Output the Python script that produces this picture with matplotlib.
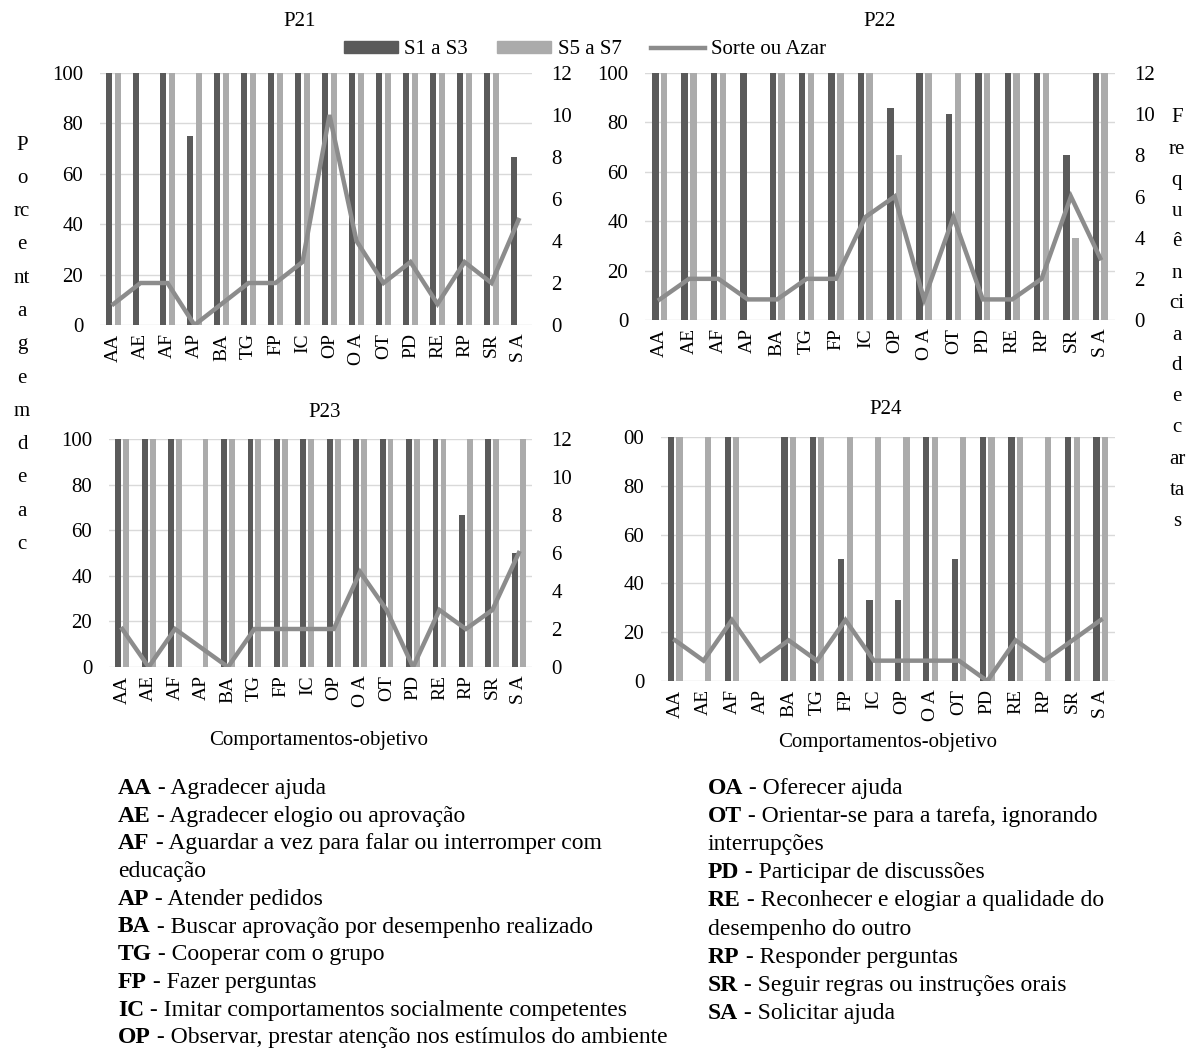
import matplotlib
matplotlib.use('Agg')
import matplotlib.pyplot as plt
from matplotlib.patches import Patch
from matplotlib.lines import Line2D
from matplotlib.text import Annotation
from matplotlib.transforms import Bbox, TransformedBbox
import numpy as np

plt.rcParams['font.family'] = ['Liberation Serif', 'DejaVu Serif']

# ---------------- data ----------------
categories = ['AA', 'AE', 'AF', 'AP', 'BA', 'TG', 'FP', 'IC', 'OP', 'O A',
              'OT', 'PD', 'RE', 'RP', 'SR', 'S A']

p21_s1_s3 = [100, 100, 100, 75, 100, 100, 100, 100, 100, 100, 100, 100, 100, 100, 100, 66.7]
p21_s5_s7 = [100, 0, 100, 100, 100, 100, 100, 100, 100, 100, 100, 100, 100, 100, 100, 0]
p21_sorte = [1, 2, 2, 0, 1, 2, 2, 3, 10, 4, 2, 3, 1, 3, 2, 5]

p22_s1_s3 = [100, 100, 100, 100, 100, 100, 100, 100, 85.7, 100, 83.3, 100, 100, 100, 66.7, 100]
p22_s5_s7 = [100, 100, 100, 0, 100, 100, 100, 100, 66.7, 100, 100, 100, 100, 100, 33.3, 100]
p22_sorte = [1, 2, 2, 1, 1, 2, 2, 5, 6, 1, 5, 1, 1, 2, 6, 3]

p23_s1_s3 = [100, 100, 100, 0, 100, 100, 100, 100, 100, 100, 100, 100, 100, 66.7, 100, 50]
p23_s5_s7 = [100, 100, 100, 100, 100, 100, 100, 100, 100, 100, 100, 100, 100, 100, 100, 100]
p23_sorte = [2, 0, 2, 1, 0, 2, 2, 2, 2, 5, 3, 0, 3, 2, 3, 6]

p24_s1_s3 = [100, 0, 100, 0, 100, 100, 50, 33.3, 33.3, 100, 50, 100, 100, 0, 100, 100]
p24_s5_s7 = [100, 100, 100, 0, 100, 100, 100, 100, 100, 100, 100, 100, 100, 100, 100, 100]
p24_sorte = [2, 1, 3, 1, 2, 1, 3, 1, 1, 1, 1, 0, 2, 1, 2, 3]

panel_titles = ['P21', 'P22', 'P23', 'P24']
left_ticks = [0, 20, 40, 60, 80, 100]
left_ticklabels_p24 = ['0', '20', '40', '60', '80', '00']
right_ticks = [0, 2, 4, 6, 8, 10, 12]
series_labels = ['S1 a S3', 'S5 a S7', 'Sorte ou Azar']
xlabel_text = 'Comportamentos-objetivo'

glossary_left = [
    ('AA', ' - Agradecer ajuda'),
    ('AE', ' - Agradecer elogio ou aprovação'),
    ('AF', ' - Aguardar a vez para falar ou interromper com'),
    ('', 'educação'),
    ('AP', ' - Atender pedidos'),
    ('BA', ' - Buscar aprovação por desempenho realizado'),
    ('TG', ' - Cooperar com o grupo'),
    ('FP', ' - Fazer perguntas'),
    ('IC', ' - Imitar comportamentos socialmente competentes'),
    ('OP', ' - Observar, prestar atenção nos estímulos do ambiente'),
]
glossary_right = [
    ('OA', ' - Oferecer ajuda'),
    ('OT', ' - Orientar-se para a tarefa, ignorando'),
    ('', 'interrupções'),
    ('PD', ' - Participar de discussões'),
    ('RE', ' - Reconhecer e elogiar a qualidade do'),
    ('', 'desempenho do outro'),
    ('RP', ' - Responder perguntas'),
    ('SR', ' - Seguir regras ou instruções orais'),
    ('SA', ' - Solicitar ajuda'),
]
left_label_parts = ['P', 'o', 'rc', 'e', 'nt', 'a', 'g', 'e', 'm', 'd', 'e', 'a', 'c', 'ar']
right_label_parts = ['F', 're', 'q', 'u', 'ê', 'n', 'ci', 'a', 'd', 'e', 'c', 'ar', 'ta', 's']

# ---------------- style ----------------
W, H = 1194, 1049
DARK = '#5a5a5a'
LIGHT = '#ababab'
LINEC = '#8c8c8c'
GRID = '#d9d9d9'
FS = 15
GFS = 17

fig = plt.figure(figsize=(W / 100, H / 100), dpi=100)


def px_rect(x0, y0, x1, y1):
    return [x0 / W, 1 - y1 / H, (x1 - x0) / W, (y1 - y0) / H]


panels = [
    (px_rect(100, 73, 532, 325), p21_s1_s3, p21_s5_s7, p21_sorte, True, False),
    (px_rect(645, 73, 1115, 320), p22_s1_s3, p22_s5_s7, p22_sorte, True, False),
    (px_rect(109, 439, 532, 667), p23_s1_s3, p23_s5_s7, p23_sorte, True, True),
    (px_rect(661, 437, 1115, 681), p24_s1_s3, p24_s5_s7, p24_sorte, False, True),
]
title_pos = [(300, 22), (880, 22), (325, 412), (886, 410)]
xlabel_pos = [None, None, (319, 741), (888, 743)]

x = np.arange(len(categories))
bw = 0.22
for i, (rect, s1, s5, sorte, show_right, show_xlabel) in enumerate(panels):
    ax = fig.add_axes(rect)
    ax.bar(x - 0.15, s1, width=bw, color=DARK, zorder=3)
    ax.bar(x + 0.15, s5, width=bw, color=LIGHT, zorder=3)
    ax.set_xlim(-0.5, len(categories) - 0.5)
    ax.set_ylim(0, 100)
    ax.set_yticks(left_ticks)
    if i == 3:
        ax.set_yticklabels(left_ticklabels_p24)
    ax.yaxis.grid(True, color=GRID, linewidth=1.0, zorder=0)
    ax.set_axisbelow(True)
    ax.set_xticks(x)
    ax.set_xticklabels(categories, rotation=90)
    ax.tick_params(axis='both', length=0)
    ax.tick_params(axis='x', labelsize=14, pad=6)
    ax.tick_params(axis='y', labelsize=FS, pad=12)
    for s in ax.spines.values():
        s.set_visible(False)
    ax2 = ax.twinx()
    ax2.plot(x, sorte, color=LINEC, linewidth=3.2, solid_joinstyle='miter', zorder=5)
    ax2.set_ylim(0, 12)
    ax2.set_yticks(right_ticks)
    ax2.tick_params(axis='y', length=0, labelsize=FS, pad=14)
    if not show_right:
        ax2.set_yticklabels([])
    for s in ax2.spines.values():
        s.set_visible(False)
    tx, ty = title_pos[i]
    fig.text(tx / W, 1 - ty / H, panel_titles[i], ha='center', va='center', fontsize=FS)
    if show_xlabel:
        lx, ly = xlabel_pos[i]
        fig.text(lx / W, 1 - ly / H, xlabel_text, ha='center', va='center', fontsize=FS)

# legend
handles = [Patch(color=DARK), Patch(color=LIGHT), Line2D([0], [0], color=LINEC, linewidth=3.2)]
fig.legend(handles, series_labels, loc='center', bbox_to_anchor=(585 / W, 1 - 50 / H), ncol=3,
           frameon=False, fontsize=FS, handlelength=2.6, handleheight=0.5, columnspacing=1.4,
           handletextpad=0.3)

# vertical stacked labels
for k, part in enumerate(left_label_parts):
    y = 145 + k * 33.3
    t = fig.text(22 / W, 1 - y / H, part, ha='center', va='center', fontsize=FS)
    if k == len(left_label_parts) - 1:
        t.set_clip_on(True)
        t.set_clip_box(TransformedBbox(Bbox([[0, 1 - 572 / H], [0.1, 1]]), fig.transFigure))

for k, part in enumerate(right_label_parts):
    y = 118 + k * 31.0
    fig.text(1177 / W, 1 - y / H, part, ha='center', va='center', fontsize=FS)


# glossary
def draw_glossary(entries, x0, y0, step):
    for k, (abbr, desc) in enumerate(entries):
        y = 1 - (y0 + k * step) / H
        if abbr:
            t = fig.text(x0 / W, y, abbr, ha='left', va='baseline', fontsize=GFS, fontweight='bold')
            a = Annotation(desc, xy=(1, 0), xycoords=t, xytext=(0, 0), textcoords='offset points',
                           ha='left', va='bottom', fontsize=GFS)
            fig.add_artist(a)
        else:
            fig.text(x0 / W, y, desc, ha='left', va='baseline', fontsize=GFS)


draw_glossary(glossary_left, 118, 794, 27.7)
draw_glossary(glossary_right, 708, 794, 28.1)

fig.savefig('out.png', dpi=100)
